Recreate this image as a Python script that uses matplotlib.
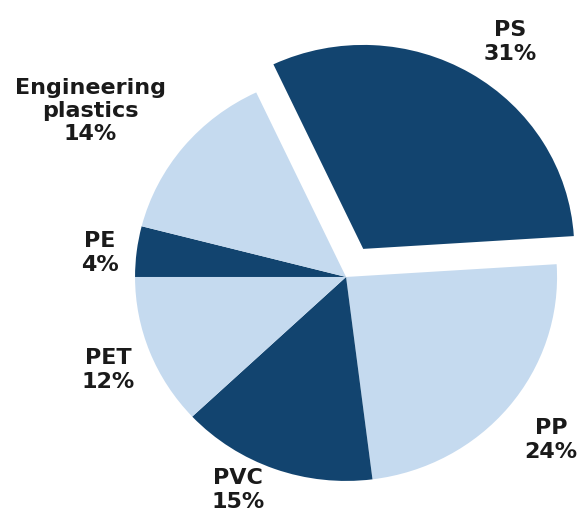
import numpy as np
import matplotlib.pyplot as plt

# plastics consumption share, clockwise from PS
materials = ['PS', 'PP', 'PVC', 'PET', 'PE', 'Engineering\nplastics']
shares = [31, 24, 15, 12, 4, 14]
explode = [0.16, 0, 0, 0, 0, 0]

dark = '#12446f'
light = '#c5daef'
colors = [dark, light, dark, light, dark, light]

# where each label block sits (data units, pie radius = 1)
label_pos = [(0.777, 1.152), (0.972, -0.799), (-0.512, -1.044),
             (-1.126, -0.456), (-1.166, 0.118), (-1.213, 0.814)]

fig = plt.figure(figsize=(5.79, 5.15), dpi=100)
ax = fig.add_axes([0, 0, 1, 1])

ax.pie(shares, explode=explode, colors=colors, startangle=115.2,
       counterclock=False, wedgeprops=dict(linewidth=0))

for name, val, (x, y) in zip(materials, shares, label_pos):
    ax.text(x, y, f'{name}\n{val}%', ha='center', va='center',
            fontsize=16, fontweight='bold', family='DejaVu Sans',
            color='#1a1a1a', linespacing=1.2)

ax.set_aspect('auto')
ax.set_xlim(-1.640, 1.104)
ax.set_ylim(-1.167, 1.358)
ax.axis('off')

fig.savefig('out.png', dpi=100, facecolor='white')
